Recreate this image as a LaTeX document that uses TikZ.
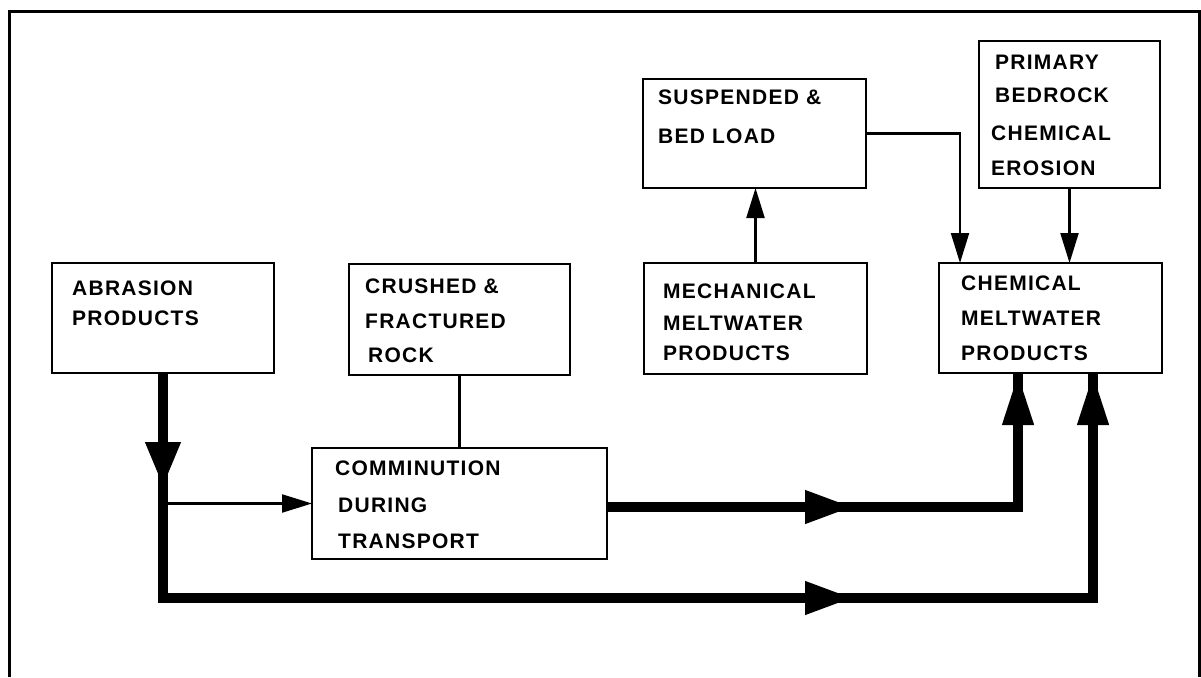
\documentclass[tikz,border=0pt]{standalone}
\usepackage{fontspec}
\setmainfont{Liberation Sans}[LetterSpace=6]
\usetikzlibrary{arrows.meta}
\begin{document}
\begin{tikzpicture}[x=1pt,y=-1pt,
  box/.style={draw, line width=2.6pt, rectangle, inner sep=0pt, outer sep=0pt, anchor=north west},
  txt/.style={anchor=base west, inner sep=0pt, font=\fontsize{21}{25}\selectfont\bfseries},
  thinline/.style={line width=2.2pt},
  thinarr/.style={line width=2.2pt, -{Triangle[length=30pt,width=18pt]}},
  thickline/.style={line width=10pt, line cap=butt, line join=miter},
  bighead/.style={line width=10pt, -{Triangle[length=48pt,width=31pt]}},
  uphead/.style={line width=10pt, -{Triangle[length=52pt,width=29pt]}}
]
\useasboundingbox (0,0) rectangle (1201,677);
% outer frame
\draw[line width=3pt] (9,677) -- (9,12) -- (1199,12) -- (1199,677);

% boxes
\node[box, minimum width=222pt, minimum height=110pt] (abr) at (52,263) {};
\node[box, minimum width=221pt, minimum height=111pt] (crush) at (349,264) {};
\node[box, minimum width=223pt, minimum height=111pt] (mech) at (644,263) {};
\node[box, minimum width=223pt, minimum height=110pt] (chem) at (939,263) {};
\node[box, minimum width=223pt, minimum height=109pt] (susp) at (643,79) {};
\node[box, minimum width=181pt, minimum height=147pt] (prim) at (979,41) {};
\node[box, minimum width=295pt, minimum height=111pt] (comm) at (312,448) {};

% texts
\node[txt] (abr1) at (72,295) {ABRASION};
\node[txt] (abr2) at (72,325) {PRODUCTS};
\node[txt] (cr1) at (365,293) {CRUSHED \&};
\node[txt] (cr2) at (365,328) {FRACTURED};
\node[txt] (cr3) at (368,362) {ROCK};
\node[txt] (me1) at (663,298) {MECHANICAL};
\node[txt] (me2) at (663,330) {MELTWATER};
\node[txt] (me3) at (663,360) {PRODUCTS};
\node[txt] (ch1) at (961,290) {CHEMICAL};
\node[txt] (ch2) at (961,325) {MELTWATER};
\node[txt] (ch3) at (961,360) {PRODUCTS};
\node[txt] (su1) at (658,104) {SUSPENDED \&};
\node[txt] (su2) at (658,143) {BED LOAD};
\node[txt] (pr1) at (995,70) {PRIMARY};
\node[txt] (pr2) at (995,102) {BEDROCK};
\node[txt] (pr3) at (991,140) {CHEMICAL};
\node[txt] (pr4) at (991,175) {EROSION};
\node[txt] (co1) at (335,475) {COMMINUTION};
\node[txt] (co2) at (338,512) {DURING};
\node[txt] (co3) at (338,548) {TRANSPORT};

% junction coordinates
\coordinate (chin1) at ([xshift=21pt]chem.north west);
\coordinate (chout1) at ([xshift=79pt]chem.south west);
\coordinate (chout2) at ([xshift=154pt]chem.south west);
\coordinate (cstart) at ([yshift=-3.5pt]comm.east);
\coordinate (jdown) at (abr.south |- 0,598);
\coordinate (jright) at (chout2 |- 0,598);
\coordinate (jmid) at (chout1 |- cstart);

% thin connectors
\draw[thinarr] (mech.north) -- (mech.north |- susp.south);
\draw[thinarr] (susp.east) -| (chin1);
\draw[thinarr] (prim.south) -- (prim.south |- chem.north);
\draw[thinline] (crush.south) -- (crush.south |- comm.north);
\draw[thinarr] (abr.south |- comm.west) -- (comm.west);

% thick connectors
\draw[thickline] (abr.south) -- (jdown) -- (jright) -- (chout2);
\draw[thickline] (cstart) -- (jmid) -- (chout1);

% arrowheads on thick lines
\draw[line width=10pt, -{Triangle[length=45pt,width=33pt]}] (abr.south) -- ([yshift=-114pt]abr.south);
\draw[bighead] (cstart) -- (853,507);
\draw[bighead] (jdown) -- (853,598);
\draw[uphead] (jmid) -- (chout1);
\draw[uphead] (jright) -- (chout2);
\end{tikzpicture}
\end{document}
